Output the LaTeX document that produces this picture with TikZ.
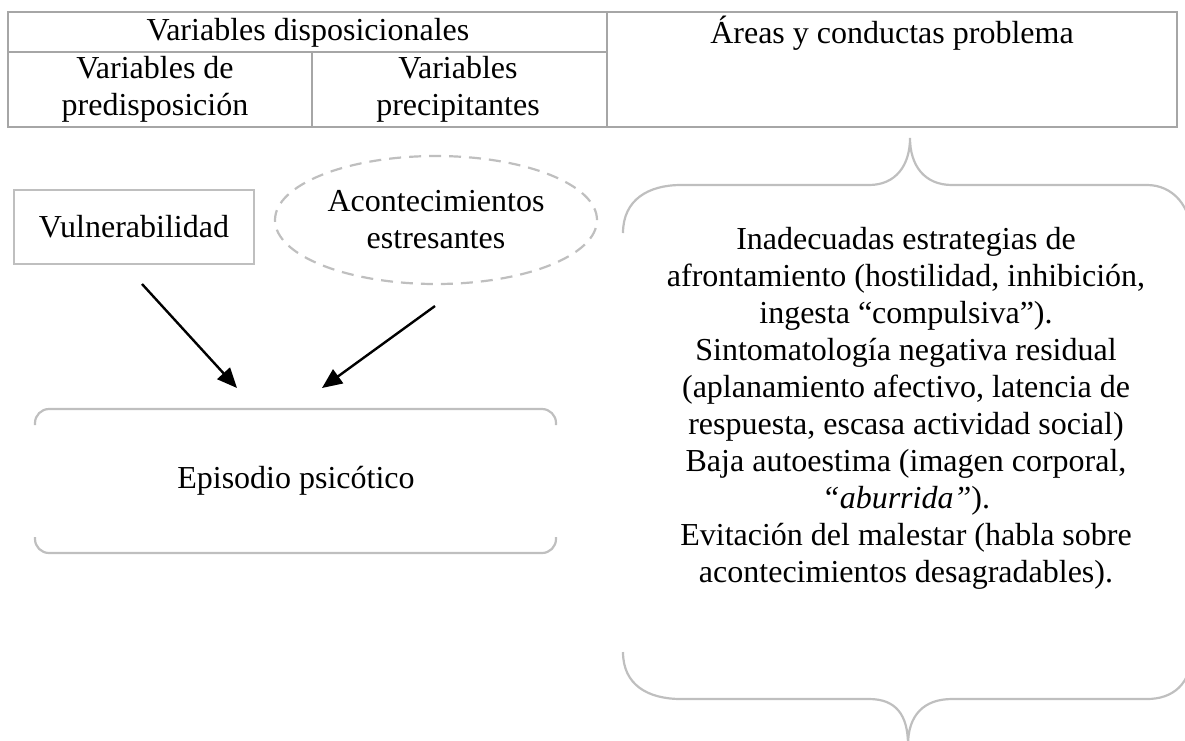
\documentclass[tikz,border=0pt]{standalone}
\usepackage{fontspec}
\setmainfont{Liberation Serif}
\usetikzlibrary{arrows.meta,shapes.geometric}
\definecolor{tblgray}{HTML}{A6A6A6}
\definecolor{lgray}{HTML}{BFBFBF}
\tikzset{
  txt/.style={font=\fontsize{32}{37}\selectfont, align=center, inner sep=0pt},
  tbl/.style={draw=tblgray, line width=2pt},
  frame/.style={draw=lgray, line width=2.2pt},
  arr/.style={line width=2.4pt, -{Triangle[length=20pt,width=17pt]}}
}
\begin{document}
\begin{tikzpicture}[x=1pt,y=-1pt]
\useasboundingbox (0,0) rectangle (1185,740);
% table
\draw[tbl] (8,12) rectangle (1177,127);
\draw[tbl] (8,52) -- (607,52);
\draw[tbl] (607,12) -- (607,127);
\draw[tbl] (312,52) -- (312,127);
\node[txt] (tdisp) at (308,33) {Variables disposicionales};
\node[txt] (tpred) at (155,89) {Variables de\\predisposición};
\node[txt] (tprec) at (458,89) {Variables\\precipitantes};
\node[txt] (tarea) at (892,33) {Áreas y conductas problema};
% vulnerabilidad
\node[txt, draw=lgray, line width=2pt, minimum width=240pt, minimum height=74pt] (vul) at (134,227) {Vulnerabilidad};
% ellipse
\node[txt, ellipse, draw=lgray, line width=2.2pt, dash pattern=on 12pt off 8pt, minimum width=322pt, minimum height=128pt] (acon) at (436,220) {Acontecimientos\\estresantes};
% episodio
\node[txt, minimum width=520pt, minimum height=144pt] (epi) at (296,481) {Episodio psicótico};
\draw[frame, rounded corners=14pt] (35,425) -- (35,409) -- (556,409) -- (556,425);
\draw[frame, rounded corners=14pt] (35,537) -- (35,553) -- (556,553) -- (556,537);
% arrows
\coordinate (a1s) at (142,284);
\coordinate (a1e) at (237,388);
\coordinate (a2s) at (435,306);
\coordinate (a2e) at (322,388);
\draw[arr] (a1s) -- (a1e);
\draw[arr] (a2s) -- (a2e);
% braces
\draw[frame] (623,233) .. controls (623,200) and (648,185) .. (681,185) -- (869,185)
  .. controls (896,185) and (910,165) .. (910,138)
  .. controls (910,165) and (924,185) .. (952,185) -- (1147,185)
  .. controls (1172,185) and (1192,205) .. (1192,240);
\draw[frame] (623,652) .. controls (623,685) and (648,699) .. (681,699) -- (869,699)
  .. controls (896,699) and (908,715) .. (908,745)
  .. controls (908,715) and (924,699) .. (952,699) -- (1147,699)
  .. controls (1172,699) and (1192,685) .. (1192,650);
\node[txt] (areas) at (906,408) {Inadecuadas estrategias de\\afrontamiento (hostilidad, inhibición,\\ingesta “compulsiva”).\\Sintomatología negativa residual\\(aplanamiento afectivo, latencia de\\respuesta, escasa actividad social)\\Baja autoestima (imagen corporal,\\{\itshape “aburrida”}).\\Evitación del malestar (habla sobre\\acontecimientos desagradables).};
\end{tikzpicture}
\end{document}
